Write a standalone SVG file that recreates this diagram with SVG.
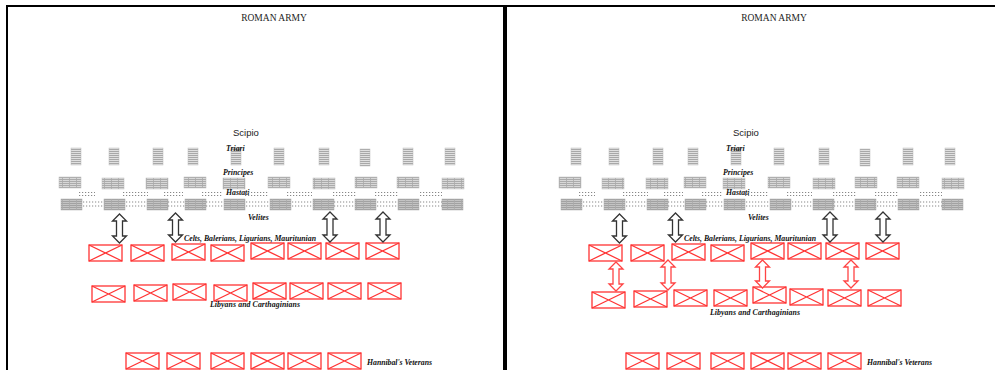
<svg xmlns="http://www.w3.org/2000/svg" width="995" height="370" viewBox="0 0 995 370">
<style>
.frame{fill:#000}
.title{font-family:"Liberation Serif",serif;font-size:9.5px;fill:#222}
.sans{font-family:"Liberation Sans",sans-serif;font-size:9.5px;fill:#222}
.lbl{font-family:"Liberation Serif",serif;font-size:7.8px;font-weight:bold;font-style:italic;fill:#111}
.tri{fill:url(#hz);stroke:#bbb;stroke-width:0.5}
.pri{fill:url(#grid);stroke:#bbb;stroke-width:0.5}
.has{fill:url(#grid2);stroke:#aaa;stroke-width:0.5}
.vel{stroke:#888;stroke-width:1.2;stroke-dasharray:1.2 1.8;fill:none}
.rb{fill:none;stroke:#f33;stroke-width:1.3}
.barr{fill:#fff;stroke:#333;stroke-width:1.3}
.rarr{fill:#fff;stroke:#f44;stroke-width:1.3}
</style>
<defs>
<pattern id="hz" patternUnits="userSpaceOnUse" width="4" height="2">
<rect width="4" height="2" fill="#e0e0e0"/><rect y="1" width="4" height="0.8" fill="#9a9a9a"/>
</pattern>
<pattern id="grid" patternUnits="userSpaceOnUse" width="7" height="2">
<rect width="7" height="2" fill="#d8d8d8"/><rect y="1" width="7" height="0.8" fill="#a0a0a0"/><rect x="6" width="0.8" height="2" fill="#aaa"/>
</pattern>
<pattern id="grid2" patternUnits="userSpaceOnUse" width="7" height="2">
<rect width="7" height="2" fill="#c4c4c4"/><rect y="1" width="7" height="0.8" fill="#9a9a9a"/><rect x="6" width="0.8" height="2" fill="#aaa"/>
</pattern>
<symbol id="rbox" overflow="visible">
<rect class="rb" x="0" y="0" width="33" height="16"/>
<path class="rb" d="M0,0 L33,16 M33,0 L0,16"/>
</symbol>
</defs>
<rect width="995" height="370" fill="#fff"/>
<g id="frames">
<rect class="frame" x="6" y="5" width="989" height="2"/>
<rect class="frame" x="6" y="5" width="2" height="365"/>
<rect class="frame" x="503" y="5" width="4" height="365"/>
</g>

<g id="panel-left">
<g id="title-l"><text class="title" x="274" y="21" text-anchor="middle">ROMAN ARMY</text></g>
<g id="scipio-l"><text class="sans" x="233" y="136">Scipio</text></g>
<g id="triarii-l">
<rect class="tri" x="71" y="148" width="10" height="17"/>
<rect class="tri" x="109" y="148" width="10" height="17"/>
<rect class="tri" x="153" y="148" width="10" height="17"/>
<rect class="tri" x="188" y="148" width="10" height="17"/>
<rect class="tri" x="231" y="148" width="10" height="17"/>
<rect class="tri" x="274" y="148" width="10" height="17"/>
<rect class="tri" x="319" y="148" width="10" height="17"/>
<rect class="tri" x="360" y="149" width="10" height="17"/>
<rect class="tri" x="403" y="148" width="10" height="17"/>
<rect class="tri" x="445" y="148" width="10" height="17"/>
<text class="lbl" x="226" y="151">Triari</text>
</g>
<g id="principes-l">
<rect class="pri" x="59" y="177" width="22" height="11"/>
<rect class="pri" x="102" y="178" width="22" height="11"/>
<rect class="pri" x="146" y="178" width="22" height="11"/>
<rect class="pri" x="184" y="177" width="22" height="11"/>
<rect class="pri" x="223" y="178" width="22" height="11"/>
<rect class="pri" x="268" y="177" width="22" height="11"/>
<rect class="pri" x="313" y="178" width="22" height="11"/>
<rect class="pri" x="355" y="177" width="22" height="11"/>
<rect class="pri" x="397" y="177" width="22" height="11"/>
<rect class="pri" x="442" y="178" width="22" height="11"/>
<text class="lbl" x="223" y="175">Principes</text>
</g>
<g id="hastati-l">
<rect class="has" x="61" y="199" width="21" height="11"/>
<rect class="has" x="104" y="199" width="21" height="11"/>
<rect class="has" x="147" y="199" width="21" height="11"/>
<rect class="has" x="185" y="199" width="21" height="11"/>
<rect class="has" x="224" y="199" width="21" height="11"/>
<rect class="has" x="270" y="199" width="21" height="11"/>
<rect class="has" x="313" y="199" width="21" height="11"/>
<rect class="has" x="355" y="199" width="21" height="11"/>
<rect class="has" x="398" y="199" width="21" height="11"/>
<rect class="has" x="442" y="199" width="21" height="11"/>
<text class="lbl" x="226" y="195">Hastati</text>
</g>
<g id="velites-l">
<path class="vel" d="M79,192.5H95M79,195.5H95M123,192.5H148M123,195.5H148M164,192.5H183M164,195.5H183M202,192.5H222M202,195.5H222M245,192.5H268M245,195.5H268M287,192.5H312M287,195.5H312M333,192.5H357M333,195.5H357M375,192.5H398M375,195.5H398M420,192.5H442M420,195.5H442"/>
<path class="vel" d="M83,202H103M83,206H103M126,202H147M126,206H147M168,202H185M168,206H185M206,202H224M206,206H224M246,202H269M246,206H269M292,202H313M292,206H313M334,202H355M334,206H355M377,202H398M377,206H398M420,202H442M420,206H442"/>
<text class="lbl" x="248" y="220">Velites</text>
</g>
<g id="celts-l">
<use href="#rbox" x="89" y="245"/><use href="#rbox" x="131" y="245"/><use href="#rbox" x="172" y="244"/><use href="#rbox" x="211" y="245"/>
<use href="#rbox" x="251" y="243"/><use href="#rbox" x="288" y="243"/><use href="#rbox" x="326" y="243"/><use href="#rbox" x="366" y="243"/>
<text class="lbl" x="184" y="241" textLength="132">Celts, Balerians, Ligurians, Mauritunian</text>
</g>
<g id="libyans-l">
<use href="#rbox" x="92" y="286"/><use href="#rbox" x="134" y="285"/><use href="#rbox" x="173" y="284"/><use href="#rbox" x="214" y="285"/>
<use href="#rbox" x="253" y="283"/><use href="#rbox" x="290" y="283"/><use href="#rbox" x="328" y="283"/><use href="#rbox" x="368" y="283"/>
<text class="lbl" x="210" y="307" textLength="90">Libyans and Carthaginians</text>
</g>
<g id="veterans-l">
<use href="#rbox" x="126" y="353"/><use href="#rbox" x="167" y="353"/><use href="#rbox" x="211" y="353"/>
<use href="#rbox" x="251" y="353"/><use href="#rbox" x="288" y="353"/><use href="#rbox" x="328" y="353"/>
<text class="lbl" x="367" y="365" textLength="65">Hannibal's Veterans</text>
</g>
</g>

<g id="panel-right">
<g id="title-r"><text class="title" x="774" y="21" text-anchor="middle">ROMAN ARMY</text></g>
<g id="scipio-r"><text class="sans" x="733" y="136">Scipio</text></g>
<g id="triarii-r">
<rect class="tri" x="571" y="148" width="10" height="17"/>
<rect class="tri" x="609" y="148" width="10" height="17"/>
<rect class="tri" x="653" y="148" width="10" height="17"/>
<rect class="tri" x="688" y="148" width="10" height="17"/>
<rect class="tri" x="731" y="148" width="10" height="17"/>
<rect class="tri" x="774" y="148" width="10" height="17"/>
<rect class="tri" x="819" y="148" width="10" height="17"/>
<rect class="tri" x="860" y="149" width="10" height="17"/>
<rect class="tri" x="903" y="148" width="10" height="17"/>
<rect class="tri" x="945" y="148" width="10" height="17"/>
<text class="lbl" x="726" y="151">Triari</text>
</g>
<g id="principes-r">
<rect class="pri" x="559" y="177" width="22" height="11"/>
<rect class="pri" x="602" y="178" width="22" height="11"/>
<rect class="pri" x="646" y="178" width="22" height="11"/>
<rect class="pri" x="684" y="177" width="22" height="11"/>
<rect class="pri" x="723" y="178" width="22" height="11"/>
<rect class="pri" x="768" y="177" width="22" height="11"/>
<rect class="pri" x="813" y="178" width="22" height="11"/>
<rect class="pri" x="855" y="177" width="22" height="11"/>
<rect class="pri" x="897" y="177" width="22" height="11"/>
<rect class="pri" x="942" y="178" width="22" height="11"/>
<text class="lbl" x="723" y="175">Principes</text>
</g>
<g id="hastati-r">
<rect class="has" x="561" y="199" width="21" height="11"/>
<rect class="has" x="604" y="199" width="21" height="11"/>
<rect class="has" x="647" y="199" width="21" height="11"/>
<rect class="has" x="685" y="199" width="21" height="11"/>
<rect class="has" x="724" y="199" width="21" height="11"/>
<rect class="has" x="770" y="199" width="21" height="11"/>
<rect class="has" x="813" y="199" width="21" height="11"/>
<rect class="has" x="855" y="199" width="21" height="11"/>
<rect class="has" x="898" y="199" width="21" height="11"/>
<rect class="has" x="942" y="199" width="21" height="11"/>
<text class="lbl" x="726" y="195">Hastati</text>
</g>
<g id="velites-r" transform="translate(500,0)">
<path class="vel" d="M79,192.5H95M79,195.5H95M123,192.5H148M123,195.5H148M164,192.5H183M164,195.5H183M202,192.5H222M202,195.5H222M245,192.5H268M245,195.5H268M287,192.5H312M287,195.5H312M333,192.5H357M333,195.5H357M375,192.5H398M375,195.5H398M420,192.5H442M420,195.5H442"/>
<path class="vel" d="M83,202H103M83,206H103M126,202H147M126,206H147M168,202H185M168,206H185M206,202H224M206,206H224M246,202H269M246,206H269M292,202H313M292,206H313M334,202H355M334,206H355M377,202H398M377,206H398M420,202H442M420,206H442"/>
<text class="lbl" x="248" y="220">Velites</text>
</g>
<g id="celts-r">
<use href="#rbox" x="589" y="245"/><use href="#rbox" x="631" y="245"/><use href="#rbox" x="672" y="244"/><use href="#rbox" x="711" y="245"/>
<use href="#rbox" x="751" y="243"/><use href="#rbox" x="788" y="243"/><use href="#rbox" x="826" y="243"/><use href="#rbox" x="866" y="243"/>
<text class="lbl" x="684" y="241" textLength="132">Celts, Balerians, Ligurians, Mauritunian</text>
</g>
<g id="libyans-r">
<use href="#rbox" x="592" y="292"/><use href="#rbox" x="634" y="291"/><use href="#rbox" x="674" y="290"/><use href="#rbox" x="714" y="290"/>
<use href="#rbox" x="753" y="287"/><use href="#rbox" x="790" y="289"/><use href="#rbox" x="828" y="290"/><use href="#rbox" x="868" y="290"/>
<text class="lbl" x="710" y="315" textLength="90">Libyans and Carthaginians</text>
</g>
<g id="veterans-r">
<use href="#rbox" x="626" y="353"/><use href="#rbox" x="667" y="353"/><use href="#rbox" x="711" y="353"/>
<use href="#rbox" x="751" y="353"/><use href="#rbox" x="788" y="353"/><use href="#rbox" x="828" y="353"/>
<text class="lbl" x="867" y="365" textLength="65">Hannibal's Veterans</text>
</g>
</g>

<g id="connectors">
<path class="barr" d="M119.5,214 l7,7 h-4 v15 h4 l-7,7 l-7,-7 h4 v-15 h-4 z"/>
<path class="barr" d="M175.5,213 l7,7 h-4 v15 h4 l-7,7 l-7,-7 h4 v-15 h-4 z"/>
<path class="barr" d="M330,212 l7,7 h-4 v16 h4 l-7,7 l-7,-7 h4 v-16 h-4 z"/>
<path class="barr" d="M383,212 l7,7 h-4 v16 h4 l-7,7 l-7,-7 h4 v-16 h-4 z"/>
<path class="barr" d="M619.5,214 l7,7 h-4 v15 h4 l-7,7 l-7,-7 h4 v-15 h-4 z"/>
<path class="barr" d="M675.5,213 l7,7 h-4 v15 h4 l-7,7 l-7,-7 h4 v-15 h-4 z"/>
<path class="barr" d="M830,212 l7,7 h-4 v16 h4 l-7,7 l-7,-7 h4 v-16 h-4 z"/>
<path class="barr" d="M883,212 l7,7 h-4 v16 h4 l-7,7 l-7,-7 h4 v-16 h-4 z"/>
<path class="rarr" d="M616,262 l7,7 h-4 v15 h4 l-7,7 l-7,-7 h4 v-15 h-4 z"/>
<path class="rarr" d="M668,260 l7,7 h-4 v16 h4 l-7,7 l-7,-7 h4 v-16 h-4 z"/>
<path class="rarr" d="M762.5,260 l7,7 h-4 v14 h4 l-7,7 l-7,-7 h4 v-14 h-4 z"/>
<path class="rarr" d="M851,260 l7,7 h-4 v14 h4 l-7,7 l-7,-7 h4 v-14 h-4 z"/>
</g>
</svg>
